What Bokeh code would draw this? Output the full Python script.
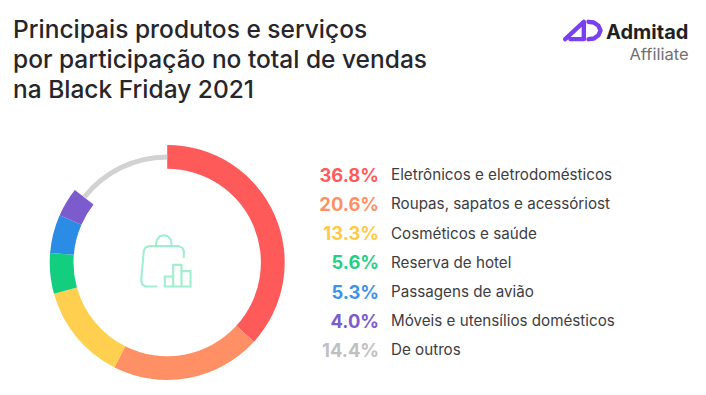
from bokeh.plotting import figure
from bokeh.embed import file_html
from bokeh.resources import INLINE
from bokeh.core.properties import value
from bokeh.models import Range1d
import math

W, H = 698, 387
categories = ["Eletrônicos e eletrodomésticos", "Roupas, sapatos e acessóriost", "Cosméticos e saúde",
              "Reserva de hotel", "Passagens de avião", "Móveis e utensílios domésticos", "De outros"]
shares = [36.8, 20.6, 13.3, 5.6, 5.3, 4.0, 14.4]
ring_colors = ["#ff5a5a", "#ff9066", "#ffd04f", "#14ce80", "#2b8ce6", "#7c5bcc", "#d2d2d2"]
pct_colors = ["#ff5a5a", "#ff9066", "#ffc845", "#1fd086", "#3a94ea", "#7c5bcc", "#c0c0c0"]
title_lines = ["Principais produtos e serviços", "por participação no total de vendas", "na Black Friday 2021"]
row_y = [174, 203.3, 232.6, 261.8, 291, 320, 349]
title_y = [28.5, 58.5, 88.5]
FONT = "Inter"

def X(px): return px
def Y(py): return H - py

p = figure(width=W, height=H, output_backend="svg", toolbar_location=None,
           x_range=Range1d(0, W), y_range=Range1d(0, H), min_border=0)
p.axis.visible = False
p.grid.visible = False
p.outline_line_color = None
p.background_fill_color = "#ffffff"
p.border_fill_color = "#ffffff"

# ring
cx, cy = X(166.7), Y(262)
cum = 0.0
for s, c in zip(shares, ring_colors):
    a0 = math.pi / 2 - cum / 100 * 2 * math.pi
    a1 = math.pi / 2 - (cum + s) / 100 * 2 * math.pi
    thin = c == ring_colors[-1]
    p.annular_wedge(x=cx, y=cy, inner_radius=103 if thin else 93.7, outer_radius=108 if thin else 117.5,
                    start_angle=a1, end_angle=a0, fill_color=c, line_color=None)
    cum += s

# centre icon
MINT = "#a0eed0"
def zx(v): return X(v / 3 + 30)
def zy(v): return Y(v / 3 + 130)
def stroke(pts, color=MINT, w=2.1, fx=zx, fy=zy):
    p.line([fx(a) for a, b in pts], [fy(b) for a, b in pts], line_color=color, line_width=w,
           line_join="round", line_cap="round")
stroke([(460, 380), (460, 362), (456, 352), (445, 347), (355, 347), (345, 351), (340, 360), (332, 450), (335, 462), (345, 468), (378, 468)])
stroke([(376, 345), (379, 328), (388, 317), (400, 314), (412, 317), (421, 328), (424, 345)])
stroke([(403, 468), (403, 438), (428, 438), (428, 468), (403, 468)])
stroke([(428, 438), (428, 403), (453, 403), (453, 468), (428, 468)])
stroke([(453, 422), (480, 422), (480, 468), (453, 468)])

# legend
p.text(x=[X(378.5)] * 7, y=[Y(v) for v in row_y], text=[f"{s:.1f}%" for s in shares],
       text_color=pct_colors, text_font=value(FONT), text_font_style="bold", text_font_size="18.4px",
       text_align="right", text_baseline="middle")
p.text(x=[X(390.5)] * 7, y=[Y(v) for v in row_y], text=categories,
       text_color="#3d3d42", text_font=value(FONT), text_font_size="15.2px",
       text_align="left", text_baseline="middle")

# title
p.text(x=[X(12.5)] * 3, y=[Y(v) for v in title_y], text=title_lines,
       text_color="#26262b", text_font=value("Inter Medium"), text_font_size="24.5px",
       text_align="left", text_baseline="middle")

# logo
def lx(v): return X(v / 3 + 530)
def ly(v): return Y(v / 3)
stroke([(104, 116), (160, 64), (160, 116), (120, 116)], "#7b3ff2", 4.4, lx, ly)
stroke([(174, 64), (190, 66), (204, 76), (210, 90), (204, 104), (190, 114), (174, 116)], "#7b3ff2", 4.4, lx, ly)
p.text(x=[X(605.5)], y=[Y(31.5)], text=["Admitad"], text_color="#1f1f24", text_font=value(FONT),
       text_font_style="bold", text_font_size="20px", text_baseline="middle")
p.text(x=[X(688)], y=[Y(53)], text=["Affiliate"], text_color="#6f6f75", text_font=value(FONT),
       text_font_size="16.5px", text_align="right", text_baseline="middle")

open("out.html", "w").write(file_html(p, INLINE))
